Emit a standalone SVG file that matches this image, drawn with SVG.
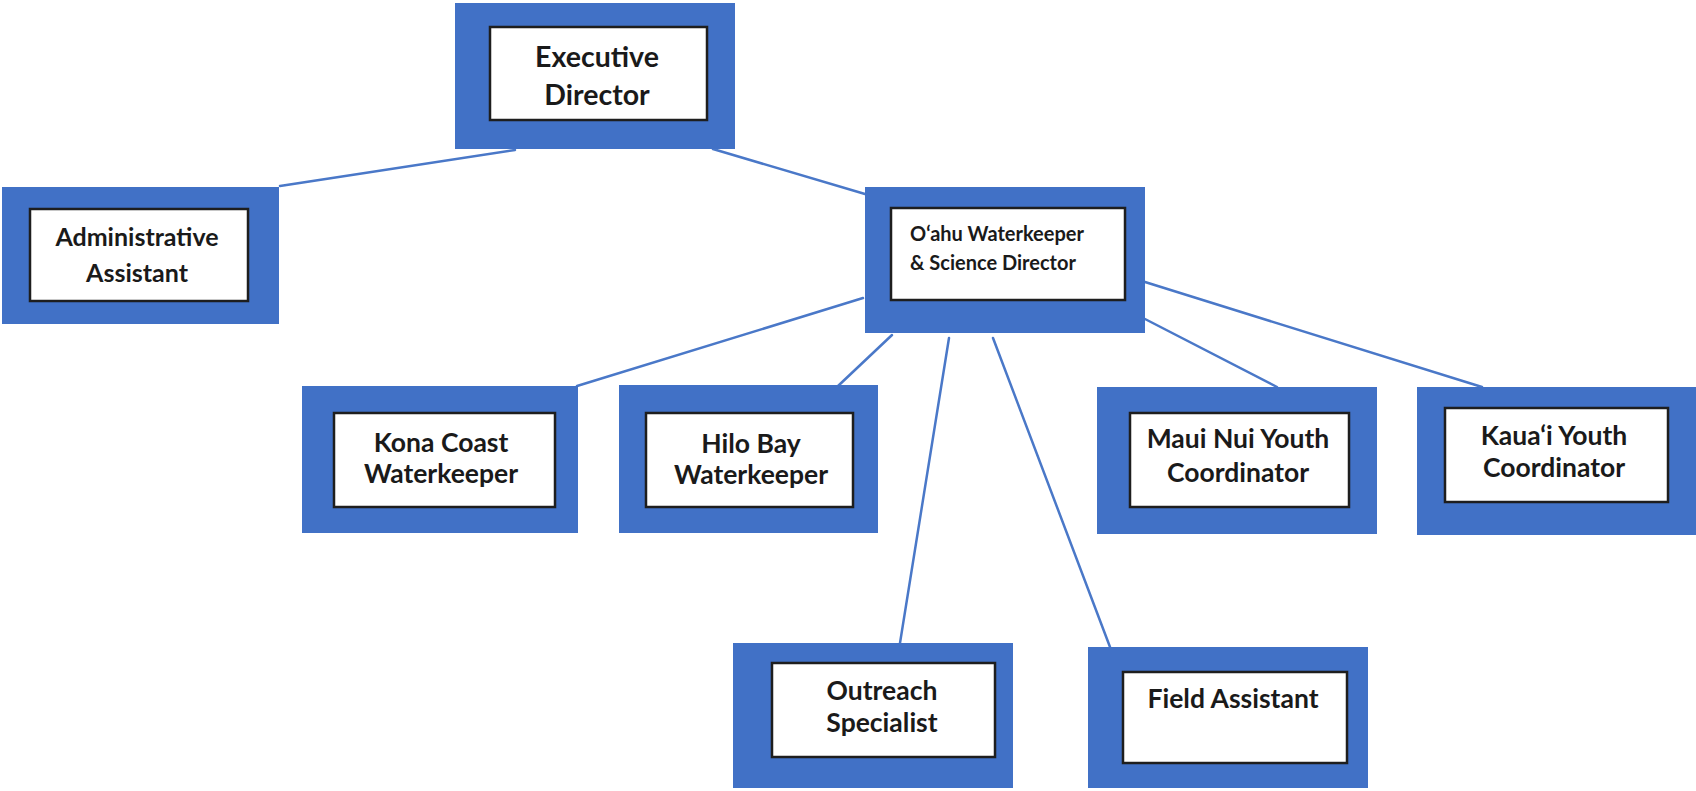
<svg xmlns="http://www.w3.org/2000/svg" width="1696" height="791" viewBox="0 0 1696 791">
<style>
.outer{fill:#4171c6;stroke:none}
.inner{fill:#ffffff;stroke:#1e1e1e;stroke-width:2.5}
.t{font-family:Lato,"Open Sans","Liberation Sans",sans-serif;font-weight:bold;fill:#1a1a1a;text-anchor:middle;font-size:26.5px}
.c line{stroke:#4a78c8;stroke-width:2.5;stroke-linecap:round}
</style>
<rect width="1696" height="791" fill="#ffffff"/>
<g class="c" id="connectors">
<line x1="515" y1="150" x2="280" y2="186"/>
<line x1="713" y1="149" x2="865" y2="194"/>
<line x1="863" y1="298" x2="577" y2="386"/>
<line x1="892" y1="335" x2="838" y2="386"/>
<line x1="949" y1="338" x2="900" y2="643"/>
<line x1="993" y1="338" x2="1110" y2="647"/>
<line x1="1145" y1="319" x2="1277" y2="387"/>
<line x1="1145" y1="282" x2="1482" y2="387"/>
</g>
<g id="executive-director">
<rect class="outer" x="455" y="3" width="280" height="146"/>
<rect class="inner" x="490" y="27" width="217" height="93"/>
<text class="t" x="597" y="67" style="font-size:28.5px">Executive</text>
<text class="t" x="597" y="105" style="font-size:28.5px">Director</text>
</g>
<g id="administrative-assistant">
<rect class="outer" x="2" y="187" width="277" height="137"/>
<rect class="inner" x="30" y="209" width="218" height="92"/>
<text class="t" x="137" y="246" style="font-size:25px">Administrative</text>
<text class="t" x="137" y="282" style="font-size:25px">Assistant</text>
</g>
<g id="oahu-waterkeeper">
<rect class="outer" x="865" y="187" width="280" height="146"/>
<rect class="inner" x="891" y="208" width="234" height="92"/>
<text class="t" x="910" y="241" style="font-size:20px;text-anchor:start">O‘ahu Waterkeeper</text>
<text class="t" x="910" y="270" style="font-size:20px;text-anchor:start">&amp; Science Director</text>
</g>
<g id="kona-coast">
<rect class="outer" x="302" y="386" width="276" height="147"/>
<rect class="inner" x="334" y="413" width="221" height="94"/>
<text class="t" x="441" y="452">Kona Coast</text>
<text class="t" x="441" y="483">Waterkeeper</text>
</g>
<g id="hilo-bay">
<rect class="outer" x="619" y="385" width="259" height="148"/>
<rect class="inner" x="646" y="413" width="207" height="94"/>
<text class="t" x="751" y="453">Hilo Bay</text>
<text class="t" x="751" y="484">Waterkeeper</text>
</g>
<g id="maui-nui">
<rect class="outer" x="1097" y="387" width="280" height="147"/>
<rect class="inner" x="1130" y="413" width="219" height="94"/>
<text class="t" x="1238" y="448">Maui Nui Youth</text>
<text class="t" x="1238" y="482">Coordinator</text>
</g>
<g id="kauai">
<rect class="outer" x="1417" y="387" width="279" height="148"/>
<rect class="inner" x="1445" y="408" width="223" height="94"/>
<text class="t" x="1554" y="445">Kaua‘i Youth</text>
<text class="t" x="1554" y="477">Coordinator</text>
</g>
<g id="outreach-specialist">
<rect class="outer" x="733" y="643" width="280" height="145"/>
<rect class="inner" x="772" y="663" width="223" height="94"/>
<text class="t" x="882" y="700">Outreach</text>
<text class="t" x="882" y="732">Specialist</text>
</g>
<g id="field-assistant">
<rect class="outer" x="1088" y="647" width="280" height="141"/>
<rect class="inner" x="1123" y="672" width="224" height="91"/>
<text class="t" x="1233" y="708">Field Assistant</text>
</g>
</svg>
